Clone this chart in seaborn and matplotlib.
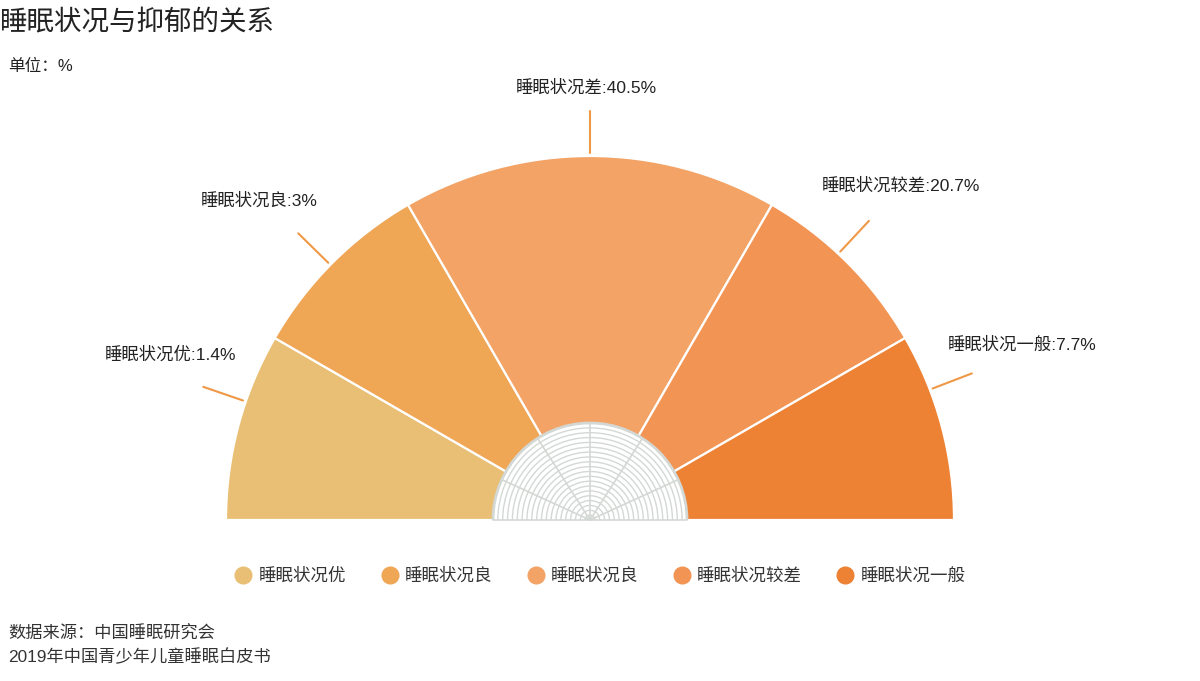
import numpy as np
import matplotlib
matplotlib.use('Agg')
import matplotlib.pyplot as plt
from matplotlib.patches import Wedge, Arc
from matplotlib.lines import Line2D
import seaborn as sns

# Data
categories = ['睡眠状况优', '睡眠状况良', '睡眠状况差', '睡眠状况较差', '睡眠状况一般']
legend_names = ['睡眠状况优', '睡眠状况良', '睡眠状况良', '睡眠状况较差', '睡眠状况一般']
values = [1.4, 3, 40.5, 20.7, 7.7]
spans = [30, 30, 60, 30, 30]          # sector angle (degrees) as drawn in the original
colors = ['#E8BF74', '#EFA655', '#F2A365', '#F29453', '#ED8134']

# label layout: leader angle (deg), text offset (px)
label_angles = [161, 135.5, 90, 47, 21]
label_dx = [-33, -39, -4, 32, 50]
label_dy = [32, 33, 23, 35, 29]

sns.set_theme(style='white')
plt.rcParams['font.family'] = ['Liberation Sans', 'Noto Sans CJK SC', 'DejaVu Sans']
palette = sns.color_palette(colors)

fig = plt.figure(figsize=(12, 6.81), dpi=100)
ax = fig.add_axes([0, 0, 1, 1])
ax.set_xlim(-590, 610)
ax.set_ylim(-161, 520)
ax.axis('off')

R = 364
r_in = 97

# sectors, drawn from the left (180 deg) clockwise
t2 = 180
for cat, span, c in zip(categories, spans, palette):
    t1 = t2 - span
    ax.add_patch(Wedge((0, 0), R, t1, t2, facecolor=c, edgecolor='white', lw=1.6))
    t2 = t1

# inner grid half disc
grid_c = '#D4D8D5'
ax.add_patch(Wedge((0, 0), r_in, 0, 180, facecolor='white', edgecolor='none', zorder=3))
for k in range(1, 20):
    rr = r_in * k / 20
    ax.add_patch(Arc((0, 0), 2 * rr, 2 * rr, theta1=0, theta2=180, color=grid_c, lw=1.0, zorder=4))
ax.add_patch(Arc((0, 0), 2 * r_in, 2 * r_in, theta1=0, theta2=180, color=grid_c, lw=2.0, zorder=4))
for a in [90 - 65.4, 90 - 32.7, 90, 90 + 32.7, 90 + 65.4]:
    t = np.radians(a)
    ax.plot([0, r_in * np.cos(t)], [0, r_in * np.sin(t)], color=grid_c, lw=1.2, zorder=4)
ax.plot([-r_in, r_in], [0, 0], color=grid_c, lw=1.2, zorder=4)

# leader lines and labels
for cat, v, a, dx, dy in zip(categories, values, label_angles, label_dx, label_dy):
    t = np.radians(a)
    x0, y0 = 367 * np.cos(t), 367 * np.sin(t)
    x1, y1 = 409 * np.cos(t), 409 * np.sin(t)
    ax.plot([x0, x1], [y0, y1], color='#EF9845', lw=1.5, zorder=5)
    ax.text(x1 + dx, y1 + dy, f'{cat}:{v}%', ha='center', va='center',
            fontsize=12.5, color='#222222')

# legend
handles = [Line2D([0], [0], marker='o', linestyle='', markersize=12,
                  markerfacecolor=c, markeredgecolor=c) for c in palette]
fig.legend(handles, legend_names, loc='center', bbox_to_anchor=(0.5, 1 - 576 / 681),
           ncol=5, frameon=False, fontsize=12.6, handlelength=1.0, handletextpad=0.35,
           columnspacing=2.0, labelcolor='#333333')

# titles and notes
fig.text(0.0, 1 - 23 / 681, '睡眠状况与抑郁的关系', fontsize=19.8, color='#222222', va='center')
fig.text(0.007, 1 - 66 / 681, '单位：%', fontsize=12, color='#222222', va='center')
fig.text(0.007, 1 - 634 / 681, '数据来源：中国睡眠研究会', fontsize=12.4, color='#333333', va='center')
fig.text(0.007, 1 - 657 / 681, '2019年中国青少年儿童睡眠白皮书', fontsize=12.4, color='#333333', va='center')

fig.savefig('out.png', dpi=100, facecolor='white')
